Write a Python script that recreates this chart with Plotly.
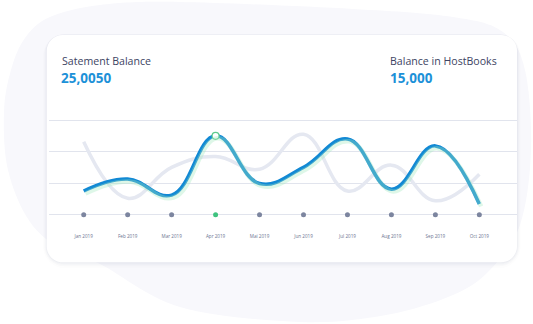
import plotly.graph_objects as go

W, H = 533, 324

months = ["Jan 2019", "Feb 2019", "Mar 2019", "Apr 2019", "Mai 2019",
          "Jun 2019", "Jul 2019", "Aug 2019", "Sep 2019", "Oct 2019"]
statement = [3750, 5650, 3100, 12500, 4950, 7500, 12000, 4050, 10900, 1700]
hostbooks = [11550, 2600, 7500, 9200, 7200, 12750, 3750, 7850, 2200, 6400]
baseline = [0] * len(months)
highlight_month = "Apr 2019"
grid_vals = [0, 5000, 10000, 15000]

title_left, value_left = "Satement Balance", "25,0050"
title_right, value_right = "Balance in HostBooks", "15,000"

# ---------- layout geometry (pixels) ----------
def px(x):
    return x / W

def py(y):
    return 1 - y / H

cat_step = 43.96          # pixels per category
first_cat_px = 83.7
plot_left, plot_right = 49.3, 517.0
plot_top, plot_bottom = 110.0, 224.0
zero_px, top_grid_px = 214.7, 120.0
ppv = (zero_px - top_grid_px) / 15000.0   # pixels per value

x_range = [(plot_left - first_cat_px) / cat_step, (plot_right - first_cat_px) / cat_step]
y_range = [-(plot_bottom - zero_px) / ppv, (zero_px - plot_top) / ppv]

# shadow offset axes
dx_px, dy_px = 1.8, 2.4
x_range2 = [x_range[0] - dx_px / cat_step, x_range[1] - dx_px / cat_step]
y_range2 = [y_range[0] + dy_px / ppv, y_range[1] + dy_px / ppv]

SM = 1.2
fig = go.Figure()

# green glow under main line
fig.add_trace(go.Scatter(x=months, y=statement, mode="lines",
                         line=dict(color="rgba(160,232,188,0.35)", width=4.5, shape="spline", smoothing=SM),
                         xaxis="x2", yaxis="y2", hoverinfo="skip", showlegend=False))
# hostbooks grey line
fig.add_trace(go.Scatter(x=months, y=hostbooks, mode="lines",
                         line=dict(color="#e5e8f1", width=3.5, shape="spline", smoothing=SM),
                         showlegend=False))
# statement blue line
fig.add_trace(go.Scatter(x=months, y=statement, mode="lines",
                         line=dict(color="#1289d4", width=3.5, shape="spline", smoothing=SM),
                         showlegend=False))
# baseline dots
dot_colors = ["#3fc37f" if m == highlight_month else "#7c859f" for m in months]
fig.add_trace(go.Scatter(x=months, y=baseline, mode="markers",
                         marker=dict(color=dot_colors, size=5, line=dict(width=0)),
                         showlegend=False, cliponaxis=False))
# hollow highlight marker
hi = months.index(highlight_month)
fig.add_trace(go.Scatter(x=[months[hi]], y=[statement[hi]], mode="markers",
                         marker=dict(color="white", size=7, line=dict(color="#5fcb8d", width=1.2)),
                         showlegend=False, cliponaxis=False))

# ---------- background blob ----------
blob_pts = [(100, 264), (180, 307), (300, 322), (386, 315), (453, 295), (490, 270),
            (520, 225), (531, 150), (525, 70), (503, 32), (453, 17), (353, 9),
            (180, 2), (100, 5), (50, 17), (25, 38), (11, 70), (4, 112), (8, 170),
            (30, 222), (65, 252)]

def catmull_path(pts):
    n = len(pts)
    d = "M %.4f,%.4f " % (px(pts[0][0]), py(pts[0][1]))
    for i in range(n):
        p0 = pts[(i - 1) % n]; p1 = pts[i]; p2 = pts[(i + 1) % n]; p3 = pts[(i + 2) % n]
        c1 = (p1[0] + (p2[0] - p0[0]) / 6, p1[1] + (p2[1] - p0[1]) / 6)
        c2 = (p2[0] - (p3[0] - p1[0]) / 6, p2[1] - (p3[1] - p1[1]) / 6)
        d += "C %.4f,%.4f %.4f,%.4f %.4f,%.4f " % (px(c1[0]), py(c1[1]), px(c2[0]), py(c2[1]), px(p2[0]), py(p2[1]))
    return d + "Z"

def rrect(x0, y0, x1, y1, r):
    k = 0.5523 * r
    pts = [
        "M %.4f,%.4f" % (px(x0 + r), py(y0)),
        "L %.4f,%.4f" % (px(x1 - r), py(y0)),
        "C %.4f,%.4f %.4f,%.4f %.4f,%.4f" % (px(x1 - r + k), py(y0), px(x1), py(y0 + r - k), px(x1), py(y0 + r)),
        "L %.4f,%.4f" % (px(x1), py(y1 - r)),
        "C %.4f,%.4f %.4f,%.4f %.4f,%.4f" % (px(x1), py(y1 - r + k), px(x1 - r + k), py(y1), px(x1 - r), py(y1)),
        "L %.4f,%.4f" % (px(x0 + r), py(y1)),
        "C %.4f,%.4f %.4f,%.4f %.4f,%.4f" % (px(x0 + r - k), py(y1), px(x0), py(y1 - r + k), px(x0), py(y1 - r)),
        "L %.4f,%.4f" % (px(x0), py(y0 + r)),
        "C %.4f,%.4f %.4f,%.4f %.4f,%.4f" % (px(x0), py(y0 + r - k), px(x0 + r - k), py(y0), px(x0 + r), py(y0)),
        "Z",
    ]
    return " ".join(pts)

shapes = [dict(type="path", path=catmull_path(blob_pts), xref="paper", yref="paper",
               fillcolor="#f8f8fc", line=dict(width=0), layer="below")]
card = (46.7, 35.0, 517.0, 262.3)
for i, (g, a) in enumerate([(6, 0.012), (4, 0.018), (2.5, 0.025), (1.2, 0.035)]):
    shapes.append(dict(type="path", path=rrect(card[0] - g * 0.6, card[1] - g * 0.2, card[2] + g * 0.6, card[3] + g, 16 + g),
                       xref="paper", yref="paper", fillcolor="rgba(60,70,110,%.3f)" % a,
                       line=dict(width=0), layer="below"))
shapes.append(dict(type="path", path=rrect(*card, 16), xref="paper", yref="paper",
                   fillcolor="white", line=dict(width=0), layer="below"))

font_fam = "Open Sans, Lato, sans-serif"
annotations = [
    dict(text=title_left, x=px(59.8), y=py(61), xanchor="left", yanchor="middle",
         font=dict(family=font_fam, size=10.6, color="#3d4463"), showarrow=False, xref="paper", yref="paper"),
    dict(text="<b>%s</b>" % value_left, x=px(59.3), y=py(78), xanchor="left", yanchor="middle",
         font=dict(family=font_fam, size=13.5, color="#1d91d8"), showarrow=False, xref="paper", yref="paper"),
    dict(text=title_right, x=px(388.3), y=py(61), xanchor="left", yanchor="middle",
         font=dict(family=font_fam, size=10.6, color="#3d4463"), showarrow=False, xref="paper", yref="paper"),
    dict(text="<b>%s</b>" % value_right, x=px(387.8), y=py(78), xanchor="left", yanchor="middle",
         font=dict(family=font_fam, size=13.5, color="#1d91d8"), showarrow=False, xref="paper", yref="paper"),
]

xdom = [px(plot_left), px(plot_right)]
ydom = [py(plot_bottom), py(plot_top)]

fig.update_layout(
    width=W, height=H, margin=dict(l=0, r=0, t=0, b=0),
    paper_bgcolor="white", plot_bgcolor="rgba(0,0,0,0)",
    shapes=shapes, annotations=annotations, showlegend=False,
    xaxis=dict(domain=xdom, range=x_range, type="category", categoryorder="array", categoryarray=months,
               showgrid=False, zeroline=False, showline=False, ticks="outside", ticklen=7,
               tickcolor="rgba(0,0,0,0)", tickfont=dict(family=font_fam, size=4.6, color="#6a7390")),
    yaxis=dict(domain=ydom, range=y_range, tickvals=grid_vals, showticklabels=False,
               showgrid=True, gridcolor="#e1e4ed", gridwidth=1.3, zeroline=False, showline=False),
    xaxis2=dict(domain=xdom, range=x_range2, type="category", categoryorder="array", categoryarray=months,
                overlaying="x", visible=False),
    yaxis2=dict(domain=ydom, range=y_range2, overlaying="y", visible=False),
)

fig.write_html("out.html", config=dict(displayModeBar=False))
